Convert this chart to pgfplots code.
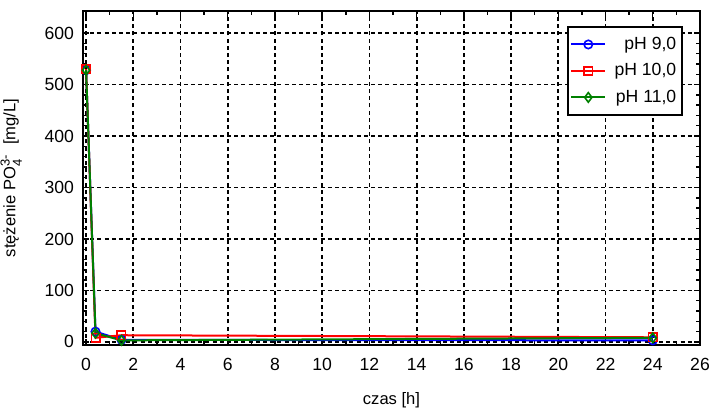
\documentclass[border=0pt]{standalone}
\usepackage{fontspec}
\setmainfont{Liberation Sans}
\usepackage{pgfplots}
\pgfplotsset{compat=1.18}

\definecolor{cBlue}{RGB}{0,0,255}
\definecolor{cRed}{RGB}{255,0,0}
\definecolor{cGreen}{RGB}{0,128,0}

\begin{document}
\begin{tikzpicture}
\begin{axis}[
  at={(0,0)}, anchor=south west,
  scale only axis,
  width=308.5pt, height=167pt,
  xmin=-0.13, xmax=26,
  ymin=-6, ymax=643,
  xtick={0,2,...,26},
  ytick={0,100,...,600},
  minor x tick num=1,
  minor y tick num=4,
  tick align=inside,
  major tick length=3pt,
  minor tick length=1.8pt,
  tick style={black, line width=0.7pt},
  axis line style={black, line width=1.2pt},
  grid=major,
  major grid style={black, dash pattern=on 2pt off 1.6pt, line width=0.9pt},
  font=\fontsize{8.8}{10}\selectfont,
  tick label style={font=\fontsize{8.8}{10}\selectfont},
  xticklabel style={yshift=-3pt},
  yticklabel style={xshift=-1pt},
  /pgf/number format/assume math mode=true,
  xlabel={czas [h]},
  ylabel={stężenie PO$_{\mbox{\fontsize{6.5}{7}\selectfont 4}}^{\mbox{\fontsize{6.5}{7}\selectfont 3-}}$\ \ [mg/L]},
  xlabel style={at={(axis description cs:0.5,0)}, anchor=north, yshift=-20pt, font=\fontsize{8.3}{10}\selectfont},
  ylabel style={at={(axis description cs:0,0.5)}, anchor=south, yshift=27pt, font=\fontsize{8.3}{10}\selectfont},
  legend style={
    at={(rel axis cs:0.9725,0.955)}, anchor=north east,
    draw=black, line width=0.8pt, fill=white,
    font=\fontsize{8.8}{10}\selectfont,
    inner xsep=1pt, inner ysep=3pt,
    row sep=1.6pt,
  },
  legend cell align=right,
  legend image code/.code={
    \draw[#1, mark repeat=2, mark phase=2]
      plot coordinates {(0cm,0cm) (0.3cm,0cm) (0.6cm,0cm)};
  },
]
\addplot[cBlue, line width=1pt, mark=o, mark size=2.1pt,
  mark options={line width=0.8pt, fill=none}]
  coordinates {(0,528) (0.4,20) (1.5,4) (24,3)};
\addlegendentry{\hspace*{7pt}pH 9,0}
\addplot[cRed, line width=1pt, mark=square, mark size=2.1pt,
  mark options={line width=0.8pt, fill=none}]
  coordinates {(0,530) (0.4,8) (1.5,13) (24,9)};
\addlegendentry{pH 10,0}
\addplot[cGreen, line width=1pt, mark=diamond, mark size=2.4pt,
  mark options={line width=0.8pt, fill=none}]
  coordinates {(0,528) (0.4,17) (1.5,3) (24,8)};
\addlegendentry{pH 11,0}
\end{axis}
\pgfresetboundingbox
\path (-41.5pt,-31.5pt) rectangle (314.5pt,172.5pt);
\end{tikzpicture}
\end{document}
